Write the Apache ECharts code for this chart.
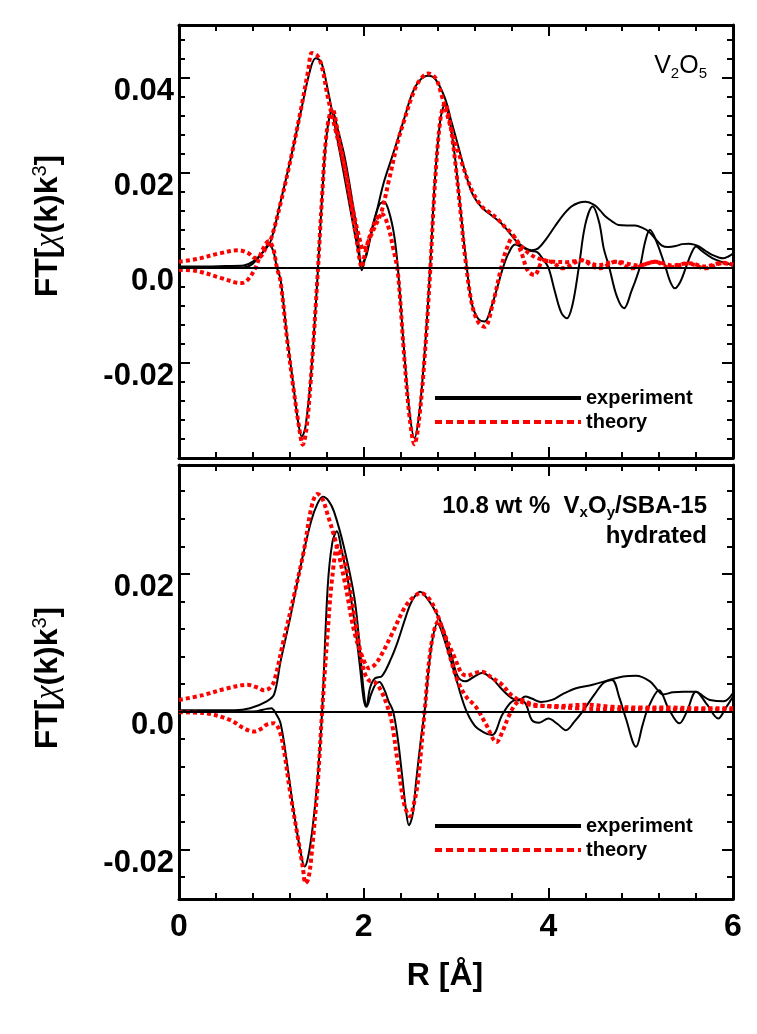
<!DOCTYPE html>
<html><head><meta charset="utf-8">
<script src="https://cdn.jsdelivr.net/npm/echarts@6/dist/echarts.min.js"></script>
<style>html,body{margin:0;padding:0;background:#fff}#c{width:757px;height:1034px}</style>
</head><body><div id="c"></div>
<script>
// ---------- DATA (R in Å, FT value) ----------
const topExpMag = [[0,0.0002],[0.3,0.0002],[0.5,0.0003],[0.7,0.0004],[0.8,0.0012],[0.9,0.003],[0.99,0.0054],[1.1,0.0138],[1.21,0.0229],[1.32,0.0328],[1.42,0.0415],[1.48,0.044],[1.54,0.0432],[1.61,0.0375],[1.72,0.0265],[1.82,0.016],[1.9,0.0075],[1.95,0.0025],[1.98,-0.0006],[2.01,0.0015],[2.08,0.0068],[2.15,0.0125],[2.22,0.018],[2.3,0.0228],[2.37,0.027],[2.45,0.032],[2.52,0.0363],[2.6,0.0392],[2.7,0.0403],[2.78,0.0395],[2.88,0.0356],[2.95,0.0307],[3.02,0.0258],[3.1,0.02],[3.17,0.0158],[3.24,0.0135],[3.31,0.0121],[3.4,0.0107],[3.49,0.0093],[3.57,0.0075],[3.64,0.0058],[3.73,0.0043],[3.82,0.0036],[3.89,0.004],[3.97,0.0058],[4.07,0.0086],[4.16,0.011],[4.25,0.0128],[4.33,0.0136],[4.4,0.0138],[4.5,0.0131],[4.56,0.012],[4.62,0.0107],[4.69,0.0097],[4.76,0.0089],[4.85,0.0088],[4.94,0.0088],[5.02,0.0083],[5.09,0.0075],[5.16,0.006],[5.23,0.0046],[5.3,0.0043],[5.38,0.0045],[5.45,0.0049],[5.52,0.005],[5.58,0.0048],[5.63,0.0044],[5.7,0.0035],[5.78,0.0026],[5.89,0.0019],[5.95,0.0023],[6.0,0.0029]];
const topExpIm = [[0,0],[0.7,0],[0.8,0.0008],[0.9,0.003],[0.97,0.0047],[1.02,0.0035],[1.06,0],[1.1,-0.0026],[1.17,-0.0145],[1.24,-0.025],[1.29,-0.0325],[1.33,-0.0356],[1.37,-0.0335],[1.43,-0.0225],[1.5,-0.002],[1.55,0.015],[1.6,0.028],[1.66,0.0331],[1.72,0.029],[1.79,0.0236],[1.86,0.016],[1.93,0.0075],[1.98,0.0008],[2.03,0.0025],[2.1,0.009],[2.17,0.0132],[2.22,0.0138],[2.27,0.012],[2.33,0.0068],[2.37,0],[2.44,-0.018],[2.5,-0.031],[2.55,-0.0359],[2.6,-0.031],[2.66,-0.018],[2.72,0],[2.77,0.018],[2.83,0.031],[2.88,0.0342],[2.93,0.031],[2.99,0.023],[3.05,0.012],[3.1,0.003],[3.17,-0.0075],[3.24,-0.0108],[3.31,-0.0114],[3.38,-0.0085],[3.45,-0.004],[3.51,0],[3.57,0.003],[3.64,0.0048],[3.72,0.0042],[3.8,0.0035],[3.88,0.0032],[3.94,0.0018],[4.0,0],[4.07,-0.005],[4.14,-0.0095],[4.2,-0.0107],[4.26,-0.008],[4.33,0],[4.4,0.009],[4.48,0.0128],[4.55,0.0095],[4.6,0.004],[4.66,0],[4.74,-0.006],[4.82,-0.0086],[4.9,-0.005],[4.99,0],[5.05,0.0055],[5.1,0.0079],[5.17,0.0055],[5.27,0],[5.32,-0.003],[5.37,-0.0044],[5.43,-0.003],[5.49,0],[5.55,0.003],[5.6,0.0044],[5.66,0.0035],[5.78,0.0019],[5.9,0.001],[6.0,0.0005]];
const topThMag = [[0,0.0012],[0.2,0.0018],[0.45,0.003],[0.64,0.0036],[0.75,0.003],[0.82,0.002],[0.88,0.0022],[0.95,0.0045],[1.0,0.0062],[1.1,0.0135],[1.21,0.0228],[1.32,0.0332],[1.4,0.0415],[1.44,0.0451],[1.5,0.0445],[1.55,0.042],[1.61,0.036],[1.7,0.0285],[1.79,0.0215],[1.88,0.0125],[1.95,0.0065],[2.0,0.0036],[2.05,0.0055],[2.12,0.0085],[2.19,0.0115],[2.27,0.018],[2.37,0.0265],[2.44,0.031],[2.52,0.0358],[2.6,0.0392],[2.7,0.0408],[2.78,0.0398],[2.84,0.0365],[2.95,0.029],[3.06,0.0222],[3.17,0.0163],[3.28,0.0128],[3.37,0.0115],[3.46,0.01],[3.53,0.0085],[3.6,0.0072],[3.71,0.0044],[3.8,0.0028],[3.89,0.0019],[4.0,0.0013],[4.07,0.0012],[4.2,0.0011],[4.36,0.0015],[4.54,0.0005],[4.73,0.0012],[4.98,0.0004],[5.16,0.0012],[5.35,0.0004],[5.52,0.0009],[5.7,0.0002],[5.89,0.001],[6.0,0.0006]];
const topThIm = [[0,-0.0005],[0.2,-0.0008],[0.45,-0.0022],[0.62,-0.0032],[0.68,-0.0033],[0.75,-0.0025],[0.83,0],[0.9,0.0035],[0.97,0.0055],[1.02,0.004],[1.06,0],[1.1,-0.003],[1.17,-0.015],[1.24,-0.0255],[1.3,-0.0335],[1.34,-0.0373],[1.38,-0.034],[1.43,-0.023],[1.5,-0.002],[1.55,0.015],[1.6,0.0285],[1.66,0.0335],[1.72,0.0285],[1.79,0.0215],[1.86,0.0135],[1.93,0.005],[1.98,0],[2.01,0.0025],[2.08,0.0075],[2.15,0.0105],[2.2,0.0112],[2.26,0.009],[2.32,0.004],[2.37,-0.001],[2.44,-0.019],[2.5,-0.032],[2.55,-0.0372],[2.6,-0.032],[2.66,-0.019],[2.72,-0.001],[2.77,0.017],[2.83,0.031],[2.88,0.0345],[2.93,0.031],[2.99,0.0225],[3.05,0.0115],[3.1,0.002],[3.17,-0.0075],[3.24,-0.0115],[3.31,-0.0125],[3.4,-0.0075],[3.49,0],[3.55,0.004],[3.62,0.0065],[3.7,0.0035],[3.78,-0.0008],[3.85,-0.0016],[3.95,0.0015],[4.05,0.001],[4.15,-0.0002],[4.36,0.0015],[4.5,0],[4.55,-0.0002],[4.73,0.0012],[4.9,-0.0002],[5.16,0.0012],[5.3,0],[5.52,0.0008],[5.7,-0.0002],[5.89,0.0009],[6.0,0.0005]];

const botExpMag = [[0,0.0002],[0.6,0.0002],[0.77,0.0005],[0.95,0.0015],[1.03,0.0025],[1.1,0.0073],[1.21,0.014],[1.32,0.0213],[1.43,0.0276],[1.5,0.0302],[1.56,0.0312],[1.62,0.0306],[1.68,0.029],[1.79,0.0237],[1.9,0.0165],[1.96,0.009],[2.0,0.003],[2.03,0.0008],[2.07,0.0035],[2.12,0.0048],[2.2,0.0052],[2.3,0.0078],[2.37,0.0102],[2.45,0.0135],[2.52,0.016],[2.61,0.0174],[2.7,0.0162],[2.78,0.0145],[2.84,0.0128],[2.95,0.0082],[3.02,0.0051],[3.1,0.0044],[3.2,0.0051],[3.28,0.0056],[3.39,0.0048],[3.5,0.0032],[3.6,0.002],[3.68,0.0016],[3.75,0.0022],[3.82,0.0019],[3.92,0.0014],[4.04,0.0017],[4.15,0.0025],[4.3,0.0034],[4.48,0.0039],[4.66,0.0046],[4.81,0.0051],[4.95,0.0052],[5.1,0.0044],[5.18,0.0032],[5.24,0.0025],[5.35,0.0028],[5.46,0.0029],[5.6,0.0029],[5.68,0.0022],[5.75,0.0017],[5.9,0.0015],[6.0,0.0027]];
const botExpIm = [[0,0],[0.8,0],[0.95,0.0004],[1.0,0.0005],[1.05,-0.0003],[1.1,-0.0017],[1.17,-0.0075],[1.24,-0.0143],[1.32,-0.0206],[1.36,-0.0225],[1.4,-0.021],[1.45,-0.0165],[1.5,-0.0099],[1.55,0],[1.61,0.018],[1.66,0.0245],[1.71,0.0262],[1.76,0.0235],[1.83,0.019],[1.9,0.0131],[1.96,0.0065],[2.0,0.0018],[2.03,0.0007],[2.08,0.0025],[2.13,0.004],[2.17,0.0043],[2.22,0.0033],[2.27,0.0015],[2.32,0],[2.37,-0.004],[2.41,-0.0085],[2.46,-0.0145],[2.49,-0.0165],[2.53,-0.015],[2.57,-0.0099],[2.62,-0.004],[2.66,0],[2.73,0.0092],[2.8,0.0128],[2.88,0.0102],[2.99,0.0053],[3.1,0.0005],[3.2,-0.002],[3.3,-0.003],[3.39,-0.0034],[3.5,-0.0005],[3.6,0.0014],[3.7,0.0018],[3.76,0.001],[3.82,-0.0012],[3.9,-0.0016],[4.0,-0.001],[4.1,-0.0018],[4.19,-0.0027],[4.28,-0.0015],[4.37,0],[4.5,0.0025],[4.6,0.0042],[4.69,0.0046],[4.77,0.002],[4.84,-0.001],[4.95,-0.0051],[5.02,-0.002],[5.08,0.0005],[5.2,0.0031],[5.3,0.0005],[5.42,-0.0017],[5.5,0],[5.6,0.0029],[5.72,0.001],[5.84,-0.001],[5.92,0.0005],[6.0,0.0022]];
const botThMag = [[0,0.0017],[0.26,0.0024],[0.5,0.0033],[0.74,0.0039],[0.85,0.0035],[0.92,0.0031],[0.98,0.0034],[1.03,0.0044],[1.13,0.0102],[1.24,0.0165],[1.35,0.0232],[1.44,0.03],[1.5,0.0316],[1.55,0.031],[1.61,0.0286],[1.7,0.0245],[1.8,0.0185],[1.9,0.0115],[2.0,0.0075],[2.06,0.0063],[2.12,0.0068],[2.19,0.0082],[2.3,0.0111],[2.44,0.015],[2.53,0.0165],[2.62,0.0172],[2.7,0.0165],[2.77,0.015],[2.88,0.0111],[2.99,0.0077],[3.06,0.0056],[3.12,0.0052],[3.2,0.0056],[3.28,0.0058],[3.38,0.005],[3.5,0.0039],[3.6,0.0024],[3.75,0.0012],[3.9,0.0008],[4.1,0.0008],[4.4,0.001],[4.7,0.0007],[5.0,0.0006],[5.3,0.0006],[5.6,0.0005],[6.0,0.0005]];
const botThIm = [[0,-0.0001],[0.26,-0.0002],[0.55,-0.0012],[0.7,-0.0024],[0.81,-0.0029],[0.9,-0.0024],[0.95,-0.0019],[1.03,-0.0017],[1.08,-0.0025],[1.13,-0.0051],[1.2,-0.0114],[1.28,-0.0177],[1.34,-0.0225],[1.37,-0.0249],[1.4,-0.0243],[1.43,-0.0215],[1.5,-0.0109],[1.55,0],[1.61,0.0115],[1.66,0.0195],[1.72,0.024],[1.78,0.0225],[1.83,0.0195],[1.93,0.0115],[2.0,0.006],[2.06,0.0045],[2.12,0.0043],[2.19,0.003],[2.25,0.001],[2.3,-0.0012],[2.37,-0.0075],[2.44,-0.0135],[2.5,-0.0152],[2.55,-0.013],[2.59,-0.0099],[2.66,0],[2.73,0.0095],[2.81,0.0131],[2.88,0.011],[2.92,0.0087],[3.02,0.0044],[3.12,0.002],[3.21,0.0008],[3.32,-0.0017],[3.44,-0.0044],[3.5,-0.003],[3.57,-0.0007],[3.64,0.001],[3.71,0.0017],[3.8,0.0012],[3.86,0.001],[4.04,0.0007],[4.3,0.0005],[4.7,0.0003],[5.0,0.0004],[5.5,0.0003],[6.0,0.0003]];

const xTickLabels = [0, 2, 4, 6];
const topYTickLabels = [-0.02, 0, 0.02, 0.04];
const botYTickLabels = [-0.02, 0, 0.02];
const xRange = [0, 6];
const topYRange = [-0.0401, 0.051];
const botYRange = [-0.0272, 0.0358];
const seriesNames = ['experiment', 'theory'];
const panelLabels = ['V2O5', '10.8 wt %  VxOy/SBA-15', 'hydrated'];

// ---------- CHART ----------
const FONT = '"Liberation Sans", Arial, Helvetica, sans-serif';
const RED = '#ff0000';
const chart = echarts.init(document.getElementById('c'), null, {renderer: 'canvas'});

function fmtY(allowed) {
  return function (v) {
    for (const a of allowed) {
      if (Math.abs(v - a) < 1e-6) return a === 0 ? '0.0' : a.toFixed(2);
    }
    return '';
  };
}
function xAx(grid, pos, showLabels) {
  return {
    type: 'value', gridIndex: grid, position: pos, min: xRange[0], max: xRange[1], interval: 2,
    axisLine: {show: true, onZero: false, lineStyle: {color: '#000', width: 3}},
    axisTick: {show: true, inside: true, length: 11, lineStyle: {color: '#000', width: 2}},
    minorTick: {show: true, splitNumber: 5, length: 6, lineStyle: {color: '#000', width: 2}},
    splitLine: {show: false}, minorSplitLine: {show: false},
    axisLabel: {show: showLabels, margin: 12, color: '#000', fontFamily: FONT, fontWeight: 'bold', fontSize: 32,
      formatter: v => (xTickLabels.indexOf(v) >= 0 ? String(v) : '')}
  };
}
function yAx(grid, pos, range, allowed, showLabels) {
  return {
    type: 'value', gridIndex: grid, position: pos, min: range[0], max: range[1],
    splitNumber: 4, minInterval: 0.02, maxInterval: 0.02,
    axisLine: {show: true, onZero: false, lineStyle: {color: '#000', width: 3}},
    axisTick: {show: true, inside: true, length: 11, lineStyle: {color: '#000', width: 2}},
    minorTick: {show: true, splitNumber: 5, length: 6, lineStyle: {color: '#000', width: 2}},
    splitLine: {show: false}, minorSplitLine: {show: false},
    axisLabel: {show: showLabels, margin: 5, color: '#000', fontFamily: FONT, fontWeight: 'bold', fontSize: 31,
      verticalAlign: 'top', lineHeight: 28, showMinLabel: false, showMaxLabel: false, formatter: fmtY(allowed)}
  };
}
function line(name, data, xi, yi, isTheory, withZero) {
  const s = {
    name: name, type: 'line', data: data, xAxisIndex: xi, yAxisIndex: yi,
    symbol: 'none', showSymbol: false, smooth: 0.35, z: isTheory ? 4 : 3,
    lineStyle: isTheory ? {color: RED, width: 4, type: [4, 3]} : {color: '#000', width: 2},
    itemStyle: {color: isTheory ? RED : '#000'},
    emphasis: {disabled: true}
  };
  if (withZero) {
    s.markLine = {silent: true, symbol: 'none', label: {show: false},
      lineStyle: {color: '#000', width: 2, type: 'solid'}, data: [{yAxis: 0}]};
  }
  return s;
}
function legendFor(top) {
  return {
    orient: 'vertical', left: 428, top: top, itemWidth: 146, itemHeight: 20, itemGap: 4,
    selectedMode: false,
    textStyle: {color: '#000', fontFamily: FONT, fontWeight: 'bold', fontSize: 20},
    data: [
      {name: seriesNames[0], lineStyle: {color: '#000', width: 4, type: 'solid'}, itemStyle: {opacity: 0, borderWidth: 0}},
      {name: seriesNames[1], lineStyle: {color: RED, width: 4, type: [7, 4]}, itemStyle: {opacity: 0, borderWidth: 0}}
    ]
  };
}

const sub = {fontFamily: FONT, fontSize: 15, lineHeight: 15, verticalAlign: 'bottom', fill: '#000'};
const option = {
  backgroundColor: '#fff',
  animation: false,
  grid: [
    {left: 179, top: 25, width: 554, height: 433},
    {left: 179, top: 465, width: 554, height: 434}
  ],
  xAxis: [xAx(0, 'bottom', false), xAx(0, 'top', false), xAx(1, 'bottom', true), xAx(1, 'top', false)],
  yAxis: [yAx(0, 'left', topYRange, topYTickLabels, true), yAx(0, 'right', topYRange, topYTickLabels, false),
          yAx(1, 'left', botYRange, botYTickLabels, true), yAx(1, 'right', botYRange, botYTickLabels, false)],
  legend: [legendFor(383), legendFor(811)],
  series: [
    line(seriesNames[0], topExpMag, 0, 0, false, true),
    line(seriesNames[0], topExpIm, 0, 0, false, false),
    line(seriesNames[1], topThMag, 0, 0, true, false),
    line(seriesNames[1], topThIm, 0, 0, true, false),
    line(seriesNames[0], botExpMag, 2, 2, false, true),
    line(seriesNames[0], botExpIm, 2, 2, false, false),
    line(seriesNames[1], botThMag, 2, 2, true, false),
    line(seriesNames[1], botThIm, 2, 2, true, false)
  ],
  graphic: [
    {type: 'text', x: 707, y: 66, silent: true, style: {
      text: '{a|V}{b|2}{a|O}{b|5}', align: 'right', verticalAlign: 'middle',
      rich: {a: {fontFamily: FONT, fontSize: 25, lineHeight: 30, fill: '#000'}, b: sub}}},
    {type: 'text', x: 707, y: 506, silent: true, style: {
      text: '{a|10.8 wt %  V}{b|x}{a|O}{b|y}{a|/SBA-15}', align: 'right', verticalAlign: 'middle',
      rich: {a: {fontFamily: FONT, fontSize: 24, fontWeight: 'bold', lineHeight: 28, fill: '#000'},
             b: Object.assign({}, sub, {fontWeight: 'bold'})}}},
    {type: 'text', x: 707, y: 536, silent: true, style: {
      text: panelLabels[2], align: 'right', verticalAlign: 'middle',
      font: 'bold 24px ' + FONT, fill: '#000'}},
    {type: 'text', x: 48, y: 226, rotation: Math.PI / 2, silent: true, style: {
      text: '{a|FT[}{c|χ}{a|(k)k}{s|3}{a|]}', align: 'center', verticalAlign: 'middle',
      rich: {a: {fontFamily: FONT, fontSize: 32, fontWeight: 'bold', lineHeight: 36, fill: '#000'},
             c: {fontFamily: '"Liberation Serif", serif', fontSize: 32, fontStyle: 'italic', lineHeight: 36, fill: '#000'},
             s: {fontFamily: FONT, fontSize: 20, lineHeight: 20, verticalAlign: 'top', fill: '#000'}}}},
    {type: 'text', x: 48, y: 678, rotation: Math.PI / 2, silent: true, style: {
      text: '{a|FT[}{c|χ}{a|(k)k}{s|3}{a|]}', align: 'center', verticalAlign: 'middle',
      rich: {a: {fontFamily: FONT, fontSize: 32, fontWeight: 'bold', lineHeight: 36, fill: '#000'},
             c: {fontFamily: '"Liberation Serif", serif', fontSize: 32, fontStyle: 'italic', lineHeight: 36, fill: '#000'},
             s: {fontFamily: FONT, fontSize: 20, lineHeight: 20, verticalAlign: 'top', fill: '#000'}}}},
    {type: 'text', x: 445, y: 976, silent: true, style: {
      text: 'R [Å]', align: 'center', verticalAlign: 'middle', font: 'bold 32px ' + FONT, fill: '#000'}}
  ]
};
chart.setOption(option);
</script></body></html>
